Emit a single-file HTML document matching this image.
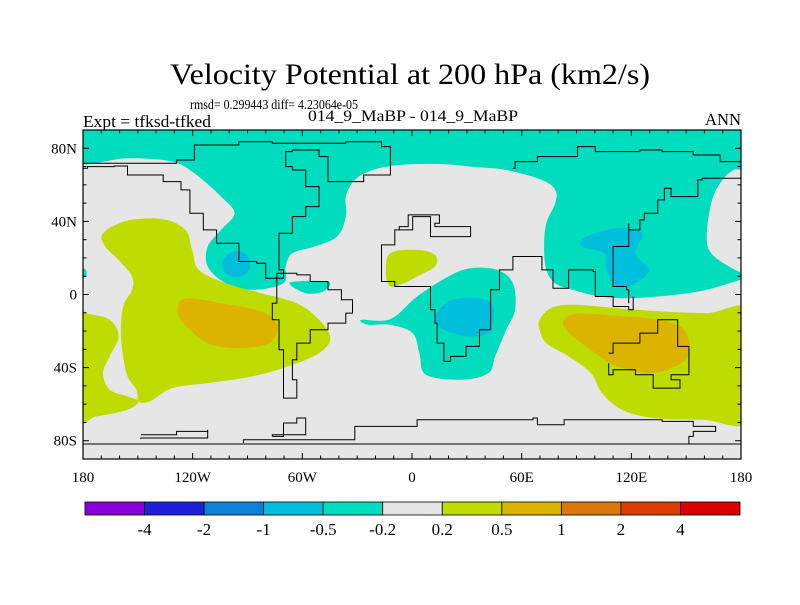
<!DOCTYPE html>
<html><head><meta charset="utf-8">
<style>
body{margin:0;background:#fff;width:800px;height:600px;overflow:hidden}
svg text{font-family:"Liberation Serif",serif;fill:#000}
</style></head>
<body>
<svg id="chart" width="800" height="600" viewBox="0 0 800 600" xmlns="http://www.w3.org/2000/svg">
<rect width="800" height="600" fill="#fff"/>
<text x="410" y="84" font-size="30" text-anchor="middle" textLength="480" lengthAdjust="spacingAndGlyphs">Velocity Potential at 200 hPa (km2/s)</text>
<text x="190" y="109" font-size="14" textLength="168" lengthAdjust="spacingAndGlyphs">rmsd= 0.299443 diff= 4.23064e-05</text>
<text x="83" y="127" font-size="17" textLength="128" lengthAdjust="spacingAndGlyphs">Expt = tfksd-tfked</text>
<text x="413" y="121" font-size="16" text-anchor="middle" textLength="210" lengthAdjust="spacingAndGlyphs">014_9_MaBP - 014_9_MaBP</text>
<text x="741" y="125" font-size="17" text-anchor="end" textLength="36" lengthAdjust="spacingAndGlyphs">ANN</text>
<defs><clipPath id="mapclip"><rect x="83" y="130" width="658" height="329"/></clipPath></defs>
<g id="map" clip-path="url(#mapclip)"></g>
<g id="axes"></g>
<g id="colorbar"></g>
</svg>
<script>
// Contour-level data (zoom-space outlines converted to lon/lat via toLL)
const levels = ["-4","-2","-1","-0.5","-0.2","0.2","0.5","1","2","4"];
const levelColors = ["#8a00dc","#2020dc","#0a82dc","#00bedc","#00dcbe","#e6e6e6","#bedc00","#dcb400","#dc780a","#dc3c00","#dc0000"];
const lonTicks = [-180,-120,-60,0,60,120,180];
const lonLabels = ["180","120W","60W","0","60E","120E","180"];
const latTicks = [80,40,0,-40,-80];
const latLabels = ["80N","40N","0","40S","80S"];

const X0=83,X1=741,Y0=130,Y1=459;
const xs = lon => X0+(lon+180)/360*(X1-X0);
const ys = lat => Y0+(90-lat)/180*(Y1-Y0);
// reference-grid helpers: zoom-frame coords -> lon/lat
const toLL = (p)=>[-180+(p[0]-50)/1477*360, 90-(p[1]-120)/988*180];

const cyanNorth = [[30,100],[1550,100],[1550,232],[1510,240],[1480,280],[1460,340],[1450,440],[1460,490],[1500,530],[1550,565],[1527,570],[1450,600],[1380,615],[1280,625],[1210,620],[1150,600],[1110,580],[1090,540],[1085,470],[1090,400],[1110,340],[1110,300],[1080,270],[1000,240],[920,230],[850,222],[760,225],[700,240],[660,270],[640,320],[640,380],[620,440],[570,470],[520,490],[505,530],[500,580],[430,600],[370,580],[330,530],[330,470],[360,420],[390,370],[360,320],[300,250],[250,215],[150,205],[30,218]];
const cyanSmall = [[515,578],[600,576],[590,604],[550,610]];
const cyanEdge = [[40,530],[56,540],[56,560],[40,565]];
const blueNA = [[370,500],[395,482],[420,500],[425,535],[405,560],[375,555],[362,525]];
const blueAsia = [[1180,440],[1250,415],[1305,430],[1290,490],[1320,540],[1290,580],[1250,590],[1225,540],[1220,490],[1170,470]];
const cyanAfrica = [[675,690],[740,688],[800,620],[870,560],[920,535],[980,540],[1015,580],[1020,660],[1000,720],[975,800],[960,850],[900,870],[820,855],[805,790],[790,730],[740,705],[690,705]];
const blueAfrica = [[850,660],[880,630],[940,625],[970,650],[965,720],[930,740],[880,730],[840,700]];
const ygPacific = [[95,430],[150,392],[230,388],[280,420],[295,480],[310,540],[370,580],[450,610],[530,640],[580,690],[605,745],[580,790],[510,830],[430,860],[330,880],[250,895],[200,935],[175,935],[170,900],[150,860],[140,800],[135,730],[140,650],[160,600],[160,560],[130,510],[100,470]];
const ygEdge = [[30,668],[60,672],[110,690],[130,740],[110,800],[95,850],[110,900],[150,920],[175,935],[150,960],[80,980],[30,985]];
const ygAfrica = [[740,490],[800,480],[840,495],[840,530],[800,560],[770,580],[740,590],[730,550]];
const ygAus = [[1075,690],[1100,655],[1150,645],[1250,655],[1350,665],[1450,670],[1560,668],[1560,985],[1440,990],[1330,985],[1260,960],[1215,910],[1190,850],[1140,800],[1090,760],[1075,720]];
const orPacific = [[265,640],[290,625],[360,640],[440,660],[480,690],[485,730],[460,765],[390,775],[330,760],[290,720],[265,680]];
const orAus = [[1130,690],[1160,672],[1250,678],[1340,690],[1400,720],[1410,790],[1380,830],[1320,850],[1250,830],[1200,790],[1150,740],[1130,710]];

const coastSA = [[485,550],[530,555],[560,575],[600,600],[630,630],[655,640],[655,670],[640,700],[600,720],[560,760],[530,810],[520,870],[530,925],[505,925],[500,780],[490,690],[475,640],[485,590],[485,550]];
const coastAF = [[720,465],[750,460],[750,420],[790,420],[790,380],[830,440],[920,440],[920,410],[840,400],[850,375],[800,375],[780,410],[760,420],[750,465],[720,470],[720,575],[750,590],[810,590],[830,600],[830,660],[840,700],[845,760],[860,815],[875,800],[910,770],[940,720],[965,690],[965,600],[985,560],[985,540],[1015,500],[1075,500],[1080,540],[1105,595],[1140,540],[1195,545],[1200,620],[1240,650],[1275,660],[1285,620]];
const coastNA = [[50,235],[60,230],[120,228],[150,255],[230,275],[270,300],[290,370],[320,420],[350,460],[400,460],[400,515],[440,520],[460,565],[500,560],[500,540],[490,430],[520,380],[550,350],[580,320],[580,290],[550,240],[520,230],[505,185],[520,180],[580,200],[600,275],[640,275],[680,255],[740,170],[720,155],[640,160],[475,155],[400,165],[300,210],[260,220],[50,220]];
const coastAsia = [[1015,235],[1020,215],[1070,200],[1160,170],[1200,185],[1300,180],[1350,185],[1420,195],[1480,215],[1527,215],[1527,265],[1440,270],[1430,320],[1370,295],[1355,330],[1340,370],[1310,390],[1300,420],[1275,400],[1275,470],[1240,500],[1240,590],[1270,600],[1275,640]];
const coastAus = [[1230,790],[1240,760],[1300,730],[1340,690],[1380,690],[1385,770],[1410,775],[1410,855],[1370,870],[1390,895],[1330,855],[1290,840],[1240,855],[1230,820]];
const coastAnt = [[50,1063],[1527,1063]];
const coastAnt2 = [[410,1060],[410,1050],[660,1035],[660,1010],[800,1005],[800,990],[1060,985],[1070,1005],[1130,990],[1350,995],[1420,1010],[1470,1025],[1420,1040],[1410,1063]];
const coastSmall1 = [[180,1035],[260,1025],[330,1020],[330,1045],[180,1048]];
const coastSmall2 = [[475,1040],[500,1000],[530,985],[550,995],[550,1035],[475,1040]];

function pts(poly){return poly.map(toLL).map(([lo,la])=>[xs(lo),ys(la)]);}
function smooth(poly){
  const p=pts(poly),n=p.length;let d=`M${p[0][0].toFixed(1)},${p[0][1].toFixed(1)}`;
  for(let i=0;i<n;i++){
    const a=p[(i-1+n)%n],b=p[i],c=p[(i+1)%n],e=p[(i+2)%n];
    const c1=[b[0]+(c[0]-a[0])/6,b[1]+(c[1]-a[1])/6],c2=[c[0]-(e[0]-b[0])/6,c[1]-(e[1]-b[1])/6];
    d+=`C${c1[0].toFixed(1)},${c1[1].toFixed(1)} ${c2[0].toFixed(1)},${c2[1].toFixed(1)} ${c[0].toFixed(1)},${c[1].toFixed(1)}`;
  }
  return d+'Z';
}
function stepLine(poly){
  const p=pts(poly);let d=`M${p[0][0].toFixed(1)},${p[0][1].toFixed(1)}`;
  for(let i=1;i<p.length;i++){d+=`H${p[i][0].toFixed(1)}V${p[i][1].toFixed(1)}`;}
  return d;
}
const NS='http://www.w3.org/2000/svg';
const map=document.getElementById('map');
function mk(tag,attrs,parent){const e=document.createElementNS(NS,tag);for(const k in attrs)e.setAttribute(k,attrs[k]);parent.appendChild(e);return e;}

const bg=mk('rect',{x:X0,y:Y0,width:X1-X0,height:Y1-Y0,fill:levelColors[5]},map);


const fills=[[cyanNorth,4,'contour-north-cyan'],[cyanSmall,4,'contour-caribbean-cyan'],[cyanEdge,4,'contour-edge-cyan'],[blueNA,3,'contour-na-blue'],[blueAsia,3,'contour-asia-blue'],[cyanAfrica,4,'contour-africa-cyan'],[blueAfrica,3,'contour-africa-blue'],[ygPacific,6,'contour-pacific-yellow'],[ygEdge,6,'contour-edge-yellow'],[ygAfrica,6,'contour-sahara-yellow'],[ygAus,6,'contour-australia-yellow'],[orPacific,7,'contour-pacific-orange'],[orAus,7,'contour-australia-orange']];
fills.forEach(([poly,lv,name])=>{
  const e=mk('path',{d:smooth(poly),fill:levelColors[lv]},map);
  
  
});
[coastSA,coastAF,coastNA,coastAsia,coastAus,coastAnt,coastAnt2,coastSmall1,coastSmall2].forEach(c=>{
  const e=mk('path',{d:stepLine(c),fill:'none',stroke:'#000','stroke-width':1},map);
  
  
});

const ax=document.getElementById('axes');
const fr=mk('rect',{x:X0,y:Y0,width:X1-X0,height:Y1-Y0,fill:'none',stroke:'#000','stroke-width':1.2},ax);


for(let lo=-180;lo<=180;lo+=10){
  const x=xs(lo),L=(lo%60===0)?6:3.5;
  mk('line',{x1:x,y1:Y0,x2:x,y2:Y0+L,stroke:'#000'},ax);
  mk('line',{x1:x,y1:Y1,x2:x,y2:Y1-L,stroke:'#000'},ax);
}
for(let la=-90;la<=90;la+=10){
  const y=ys(la),L=(la%40===0&&la!==0||la===0)?6:3.5;
  mk('line',{x1:X0,y1:y,x2:X0+L,y2:y,stroke:'#000'},ax);
  mk('line',{x1:X1,y1:y,x2:X1-L,y2:y,stroke:'#000'},ax);
}
lonTicks.forEach((lo,i)=>{
  const t=mk('text',{x:xs(lo),y:482,'font-size':15,'text-anchor':'middle'},ax);
  t.textContent=lonLabels[i];
  
  
});
latTicks.forEach((la,i)=>{
  const t=mk('text',{x:X0-6,y:ys(la)+5,'font-size':15,'text-anchor':'end'},ax);
  t.textContent=latLabels[i];
  
  
});

const cb=document.getElementById('colorbar');
const CX0=85,CX1=740,CY=502,CH=13,bw=(CX1-CX0)/levelColors.length;
levelColors.forEach((c,i)=>{
  const r=mk('rect',{x:CX0+i*bw,y:CY,width:bw,height:CH,fill:c,stroke:'#000','stroke-width':0.8},cb);
  
  
});
levels.forEach((lv,i)=>{
  const t=mk('text',{x:CX0+(i+1)*bw,y:535,'font-size':17,'text-anchor':'middle'},cb);
  t.textContent=lv;
  
  
});
</script>
</body></html>
